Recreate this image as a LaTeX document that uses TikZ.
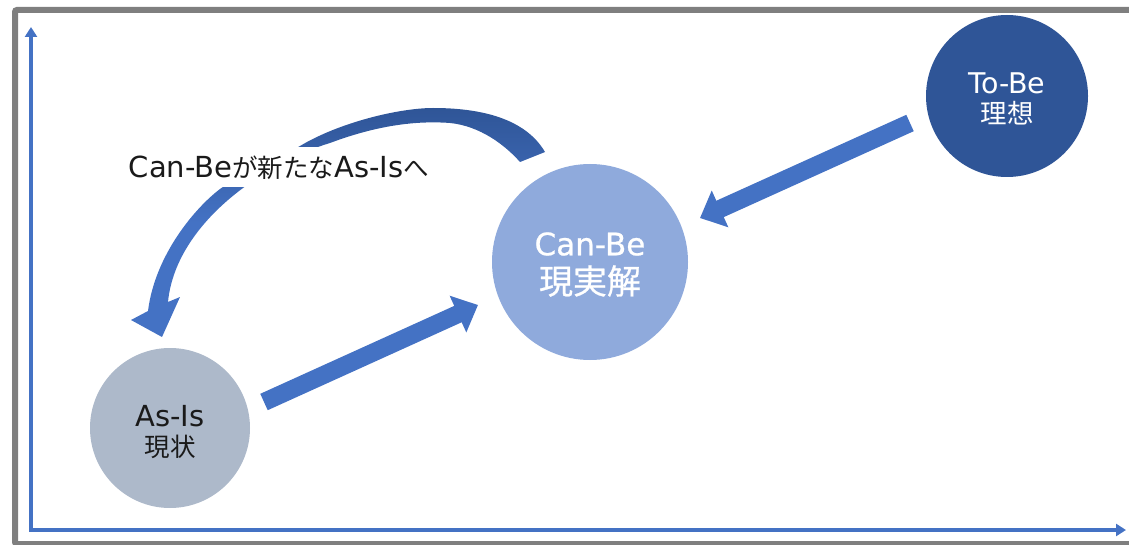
\documentclass[tikz,border=0pt]{standalone}
\usepackage{fontspec}
\newfontfamily\latf{DejaVu Sans}
\newfontfamily\cjkf{Noto Sans CJK JP}
\newfontfamily\latfb[FakeBold=0.7]{DejaVu Sans}
\newfontfamily\cjkfb[FakeBold=0.7]{Noto Sans CJK JP}
\usetikzlibrary{arrows.meta}
\definecolor{frameGray}{HTML}{7F7F7F}
\definecolor{axisBlue}{HTML}{4472C4}
\definecolor{toBeBlue}{HTML}{2F5597}
\definecolor{canBeBlue}{HTML}{8FAADC}
\definecolor{asIsGray}{HTML}{ADB9CA}
\definecolor{arcTop}{HTML}{2F5597}
\definecolor{inkDark}{HTML}{1A1A1A}
\begin{document}
\begin{tikzpicture}[x=1pt,y=-1pt,
  stage/.style={circle, inner sep=0pt, draw=none},
  txt/.style={inner sep=0pt, outer sep=0pt},
  blockarrow/.style={draw=axisBlue, line width=18pt, -{Triangle[width=39pt,length=22pt]}},
  axisline/.style={draw=axisBlue, line width=3.5pt, line join=miter,
     {Triangle[width=12pt,length=10pt]}-{Triangle[width=12pt,length=10pt]}}]
\useasboundingbox (0,0) rectangle (1129,545);
\clip (0,0) rectangle (1129,545);
% frame
\draw[frameGray, line width=6pt, rounded corners=2pt] (15,10) rectangle (1140,544);
% axes
\coordinate (ytip) at (31,27);
\coordinate (orig) at (31,530);
\coordinate (xtip) at (1126,530);
\draw[axisline] (ytip) -- (orig) -- (xtip);
% circles
\node[stage, fill=asIsGray, minimum size=160pt] (asis) at (170,428) {};
\node[stage, fill=canBeBlue, minimum size=196pt] (canbe) at (590,262) {};
\node[stage, fill=toBeBlue, minimum size=162pt] (tobe) at (1007,96) {};
% circle texts
\node[txt, text=inkDark, font=\latf\fontsize{29}{31}\selectfont] (asisA) at (170,416) {As-Is};
\node[txt, text=inkDark, font=\cjkf\fontsize{25.5}{31}\selectfont] (asisB) at (170,447) {現状};
\node[txt, text=white, font=\latfb\fontsize{31}{34}\selectfont] (canbeA) at (590,244) {Can-Be};
\node[txt, text=white, font=\cjkfb\fontsize{34}{38}\selectfont] (canbeB) at (590,281) {現実解};
\node[txt, text=white, font=\latf\fontsize{28.5}{31}\selectfont] (tobeA) at (1007,83) {To-Be};
\node[txt, text=white, font=\cjkf\fontsize{26.5}{31}\selectfont] (tobeB) at (1007,113) {理想};
% straight block arrows
\coordinate (a1s) at (264,402);
\coordinate (a1e) at (478,305);
\coordinate (a2s) at (910,123);
\coordinate (a2e) at (700,218);
\draw[blockarrow] (a1s) -- (a1e);
\draw[blockarrow] (a2s) -- (a2e);
% curved arrow (from Can-Be back to As-Is)
\shade[top color=arcTop, bottom color=axisBlue, middle color=axisBlue]
  (520,162) -- (545,152)
  .. controls (525,118) and (480,108) .. (433,108)
  .. controls (400,108) and (340,122) .. (300,146)
  .. controls (270,162) and (240,175) .. (220,189)
  .. controls (195,208) and (155,255) .. (148,311)
  -- (131,320) -- (162,337) -- (180,297) -- (168,302)
  .. controls (172,260) and (200,220) .. (243,188)
  .. controls (270,168) and (300,152) .. (330,143)
  .. controls (370,128) and (410,120) .. (450,123)
  .. controls (480,126) and (505,145) .. (520,162)
  -- cycle;
% label
\node[fill=white, inner sep=0pt, minimum width=322pt, minimum height=40pt,
      text height=21pt, text depth=0pt, text=inkDark] (lbl) at (279,167.5)
  {{\latf\fontsize{29}{31}\selectfont Can-Be}{\cjkf\fontsize{25.5}{31}\selectfont が新たな}{\latf\fontsize{29}{31}\selectfont As-Is}{\cjkf\fontsize{25.5}{31}\selectfont へ}};
\end{tikzpicture}
\end{document}
